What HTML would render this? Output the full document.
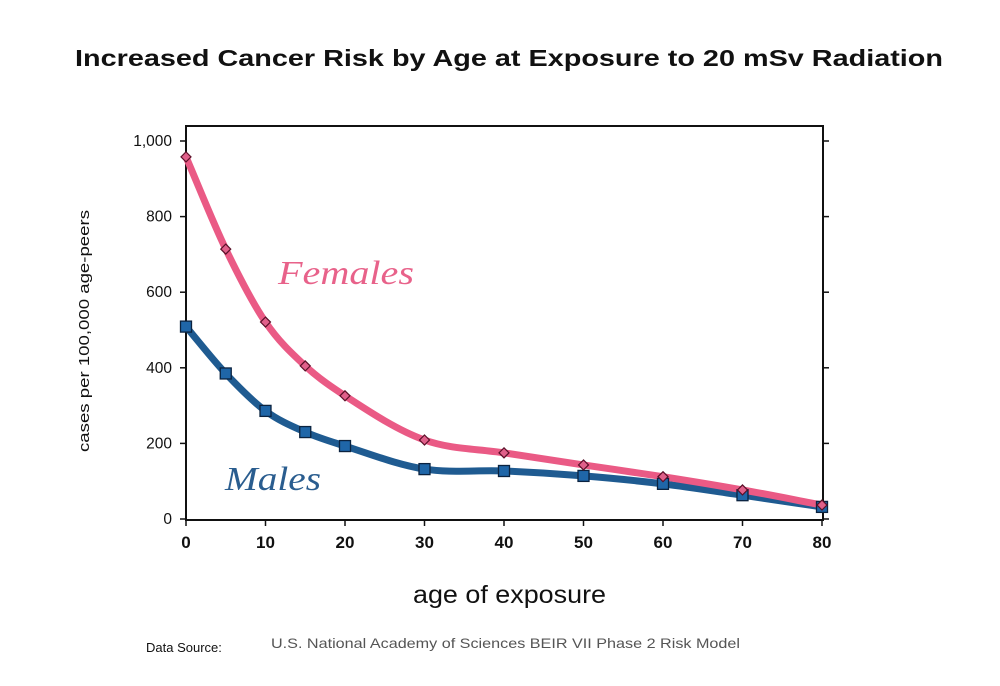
<!DOCTYPE html>
<html><head><meta charset="utf-8"><style>
body{margin:0;background:#fff;}
svg{display:block;font-family:"Liberation Sans",sans-serif;}
</style></head><body>
<svg width="1000" height="686" viewBox="0 0 1000 686">
<text x="75" y="66" textLength="868" lengthAdjust="spacingAndGlyphs" font-size="23" font-weight="bold" fill="#111">Increased Cancer Risk by Age at Exposure to  20 mSv  Radiation</text>
<rect x="186" y="126" width="637" height="394" fill="none" stroke="#111" stroke-width="2"/>
<g id="axes"></g>
<g id="series"></g>
<text x="278" y="284" textLength="136" lengthAdjust="spacingAndGlyphs" font-family="Liberation Serif,serif" font-style="italic" font-size="34" fill="#e8628a">Females</text>
<text x="225" y="490" textLength="96" lengthAdjust="spacingAndGlyphs" font-family="Liberation Serif,serif" font-style="italic" font-size="34" fill="#2a5d8f">Males</text>
<text transform="translate(89,452) rotate(-90)" textLength="242" lengthAdjust="spacingAndGlyphs" font-size="15" fill="#111">cases per 100,000 age-peers</text>
<text x="413" y="603" textLength="193" lengthAdjust="spacingAndGlyphs" font-size="25" fill="#111">age of exposure</text>
<text x="146" y="652" font-size="13" fill="#111">Data Source:</text>
<text x="271" y="648" textLength="469" lengthAdjust="spacingAndGlyphs" font-size="14" fill="#555">U.S. National Academy of Sciences BEIR VII Phase 2 Risk Model</text>
</svg>
<script>
const ages=[0,5,10,15,20,30,40,50,60,70,80];
const females=[958,714,521,405,326,209,175,143,112,77,37];
const males=[509,385,286,230,193,132,127,114,93,63,32];
const yTicks=[0,200,400,600,800,1000];
const yTickLabels=["0","200","400","600","800","1,000"];
const xTicks=[0,10,20,30,40,50,60,70,80];
const NS="http://www.w3.org/2000/svg";
function sx(v){return 186+v*(822-186)/80;}
function sy(v){return 519-v*0.378;}
function mk(t,a,p){const e=document.createElementNS(NS,t);for(const k in a)e.setAttribute(k,a[k]);p.appendChild(e);return e;}
const ax=document.getElementById('axes');
yTicks.forEach((v,i)=>{
 const y=sy(v);
 let l=mk('line',{x1:180,x2:186,y1:y,y2:y,stroke:'#111','stroke-width':1.5},ax);
 
 
 let r=mk('line',{x1:823,x2:829,y1:y,y2:y,stroke:'#111','stroke-width':1.5},ax);
 
 
 let t=mk('text',{x:172,y:y+5,'text-anchor':'end','font-size':15.5,fill:'#111'},ax);
 t.textContent=yTickLabels[i];
 
 
});
xTicks.forEach(v=>{
 const x=sx(v);
 let l=mk('line',{x1:x,x2:x,y1:520,y2:526,stroke:'#111','stroke-width':1.5},ax);
 
 
 let t=mk('text',{x:x,y:548,'text-anchor':'middle','font-size':17,'font-weight':'bold',fill:'#111'},ax);
 t.textContent=String(v);
 
 
});
function smooth(pts){
 const n=pts.length;const d=[],m=[];
 for(let i=0;i<n-1;i++)d.push((pts[i+1][1]-pts[i][1])/(pts[i+1][0]-pts[i][0]));
 m[0]=d[0];m[n-1]=d[n-2];
 for(let i=1;i<n-1;i++)m[i]=(d[i-1]*d[i]<=0)?0:(d[i-1]+d[i])/2;
 let s='M'+pts[0][0]+','+pts[0][1];
 for(let i=0;i<n-1;i++){const h=(pts[i+1][0]-pts[i][0])/3;
  s+=' C'+(pts[i][0]+h)+','+(pts[i][1]+m[i]*h)+' '+(pts[i+1][0]-h)+','+(pts[i+1][1]-m[i+1]*h)+' '+pts[i+1][0]+','+pts[i+1][1];}
 return s;
}
const sg=document.getElementById('series');
function drawSeries(vals,color,name){
 const pts=ages.map((a,i)=>[sx(a),sy(vals[i])]);
 let p=mk('path',{d:smooth(pts),fill:'none',stroke:color,'stroke-width':7,'stroke-linecap':'round'},sg);
 
 
 return pts;
}
const mp=drawSeries(males,'#1f5b91','males');
const fp=drawSeries(females,'#ea5a85','females');
mp.forEach(([x,y])=>{
 let r=mk('rect',{x:x-5.5,y:y-5.5,width:11,height:11,fill:'#1f66a8',stroke:'#0b2340','stroke-width':1.3},sg);
 
 
});
fp.forEach(([x,y])=>{
 let r=mk('path',{d:`M${x},${y-5} L${x+5},${y} L${x},${y+5} L${x-5},${y} Z`,fill:'#e0608a',stroke:'#5a1028','stroke-width':1.2},sg);
 
 
});
</script>
</body></html>
